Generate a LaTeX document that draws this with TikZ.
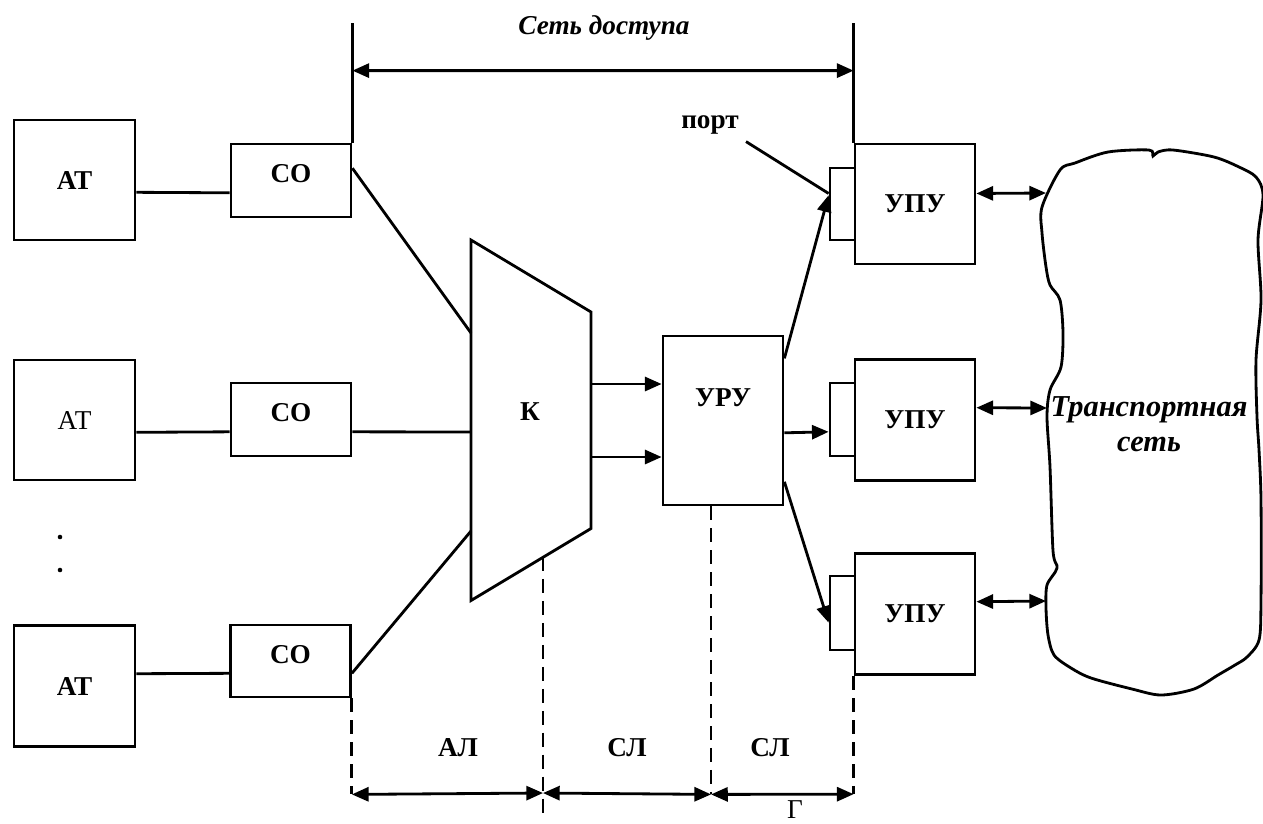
\documentclass[tikz,border=0pt]{standalone}
\usepackage{fontspec}
\setmainfont{Liberation Serif}
\usetikzlibrary{arrows.meta}

\begin{document}
\begin{tikzpicture}[x=0.02cm, y=-0.02cm, line width=1.6pt,
    >={Triangle[length=9.5pt, width=8pt]},
    txt/.style={font=\fontsize{15.5}{18}\selectfont\bfseries},
    blk/.style={draw, txt, inner sep=0pt, minimum width=2.4cm},
    dim/.style={dash pattern=on 8pt off 4.5pt}]
  \useasboundingbox (0,0) rectangle (1263,823);

  % subscriber terminals and line equipment
  \node[blk, minimum width=2.42cm, minimum height=2.4cm] (at1) at (74.5,180) {АТ};
  \node[blk, minimum width=2.42cm, minimum height=2.4cm, font=\fontsize{15.5}{18}\selectfont] (at2) at (74.5,420) {АТ};
  \node[blk, minimum width=2.42cm, minimum height=2.42cm] (at3) at (74.5,686) {АТ};

  \node[blk, minimum height=1.46cm, text depth=7.5pt] (co1) at (291,180.5) {СО};
  \node[blk, minimum height=1.46cm, text depth=7.5pt] (co2) at (291,419.5) {СО};
  \node[blk, minimum height=1.44cm, text depth=7.5pt] (co3) at (290.5,661) {СО};

  \fill (60,537) circle[radius=1.3pt];
  \fill (60,570) circle[radius=1.3pt];

  \draw ([yshift=-7pt]at1.east) -- ([yshift=-7pt]co1.west);
  \draw ([yshift=-7pt]at2.east) -- ([yshift=-7pt]co2.west);
  \draw ([yshift=7pt]at3.east) -- ([yshift=-7pt]co3.west);

  % concentrator
  \draw (471,240) coordinate (k-nw) -- (591,312) coordinate (k-ne)
    -- (591,528.5) coordinate (k-se) -- (471,600.5) coordinate (k-sw) -- cycle;
  \node[txt] (k) at (530,412) {К};
  \coordinate (k-in1) at (471,333);
  \coordinate (k-in2) at (471,432);
  \coordinate (k-in3) at (471,531);
  \coordinate (k-out1) at (591,384);
  \coordinate (k-out2) at (591,457);
  \coordinate (k-cut) at (543,557);

  \draw ([yshift=7pt]co1.east) -- (k-in1);
  \draw ([yshift=-7pt]co2.east) -- (k-in2);
  \draw ([yshift=-7pt]co3.east) -- (k-in3);

  % distribution unit
  \node[blk, minimum height=3.38cm, text depth=26pt] (uru) at (723,420.5) {УРУ};
  \draw[->] (k-out1) -- (k-out1 -| uru.west);
  \draw[->] (k-out2) -- (k-out2 -| uru.west);

  % ports and access units
  \node[draw, minimum width=0.5cm, minimum height=1.44cm] (p1) at (842.5,204) {};
  \node[draw, minimum width=0.5cm, minimum height=1.46cm] (p2) at (842.5,419.5) {};
  \node[draw, minimum width=0.5cm, minimum height=1.48cm] (p3) at (842.5,613) {};
  \node[blk, minimum height=2.4cm] (upu1) at (915,204) {УПУ};
  \node[blk, minimum height=2.43cm] (upu2) at (915,420) {УПУ};
  \node[blk, minimum height=2.43cm] (upu3) at (915,614) {УПУ};

  \draw[->] ([yshift=-13.5pt]uru.north east) -- ([yshift=5pt]p1.west);
  \draw[->] ([yshift=-7pt]uru.east) -- ([yshift=-7pt]p2.west);
  \draw[->] ([yshift=14pt]uru.south east) -- ([yshift=-5.5pt]p3.west);

  \node[txt] (portlbl) at (710,125) {порт};
  \draw (portlbl.south east) -- ([yshift=6pt]p1.west);

  % transport network
  \draw plot[smooth cycle, tension=0.5] coordinates {
    (1060,170) (1075,163) (1108,152) (1149,150) (1153,156) (1158,152)
    (1173,150) (1214,157) (1239,167) (1256,177) (1263,195) (1258,240)
    (1261,300) (1256,360) (1257,417) (1259,450) (1261,500) (1261,601)
    (1259,640) (1247,657) (1235,665) (1218,675) (1194,689) (1161,695)
    (1132,689) (1091,678) (1071,668) (1054,655) (1048,635) (1046,608)
    (1047,585) (1057,568) (1053,551) (1050,467) (1047,417) (1050,390)
    (1061,367) (1063,333) (1060,300) (1050,285) (1046,267) (1042,233)
    (1042,207)};
  \node[txt, font=\fontsize{17.3}{20}\selectfont\bfseries\itshape, align=center] (net) at (1149,424) {Транспортная\\сеть};
  \coordinate (net1) at (1046,193);
  \coordinate (net2) at (1047,408);
  \coordinate (net3) at (1046,601);

  \draw[<->] ([yshift=6pt]upu1.east) -- (net1);
  \draw[<->] ([yshift=7pt]upu2.east) -- (net2);
  \draw[<->] ([yshift=7pt]upu3.east) -- (net3);

  % access network span
  \draw (co1.north east) -- ++(0,-72) coordinate (acc-l) -- ++(0,-48);
  \draw (upu1.north west) -- ++(0,-72) coordinate (acc-r) -- ++(0,-48);
  \draw[<->] (acc-l) -- (acc-r);
  \node[txt, font=\fontsize{15.5}{18}\selectfont\bfseries\itshape] (acc) at (604,28) {Сеть доступа};

  % line sections
  \draw[dim] (co3.south east) -- ++(0,96) coordinate (d1);
  \draw[dim] (k-cut) -- (543,793) coordinate (d2) -- (543,818);
  \draw[dim] ([xshift=-6.8pt]uru.south) -- ++(0,288) coordinate (d3);
  \draw[dim] (upu3.south west) -- ++(0,118) coordinate (d4);
  \draw[<->] (d1) -- (d2);
  \draw[<->] (d2) -- (d3);
  \draw[<->] (d3) -- (d4);

  \node[txt] (al) at (458,748) {АЛ};
  \node[txt] (sl1) at (627,748) {СЛ};
  \node[txt] (sl2) at (770,748) {СЛ};
  \node[txt, font=\fontsize{15.5}{18}\selectfont, inner sep=0pt] (g) at (795,810) {Г};
\end{tikzpicture}
\end{document}
